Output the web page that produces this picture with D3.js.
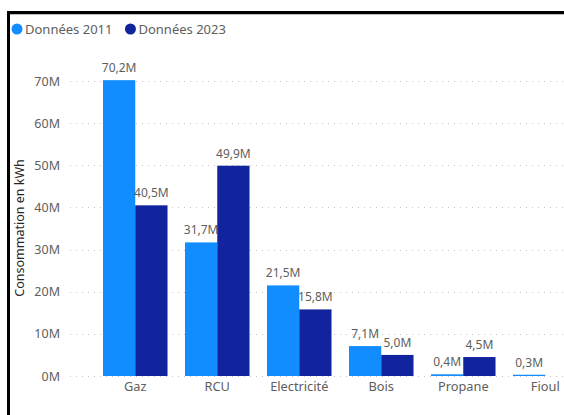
<!DOCTYPE html>
<html>
<head>
<meta charset="utf-8">
<script src="https://cdn.jsdelivr.net/npm/d3@7"></script>
<style>
  html, body { margin: 0; padding: 0; background: #fff; overflow: hidden; }
  svg { display: block; font-family: "Segoe UI", "Noto Sans", sans-serif; }
</style>
</head>
<body>
<svg id="chart" width="564" height="415"></svg>
<script>
// Consommation d'énergie par source (kWh, en millions)
const categories = ["Gaz", "RCU", "Electricité", "Bois", "Propane", "Fioul"];
const seriesNames = ["Données 2011", "Données 2023"];
const values2011 = [70.2, 31.7, 21.5, 7.1, 0.4, 0.3];
const values2023 = [40.5, 49.9, 15.8, 5.0, 4.5, null];
const yTicks = [0, 10, 20, 30, 40, 50, 60, 70];
const colors = ["#118DFF", "#12239E"];

const svg = d3.select("#chart");
const W = 564, H = 415;

// Cadre du visuel
svg.append("rect")
  .attr("x", 8.5).attr("y", 12.5)
  .attr("width", W + 20).attr("height", H + 20)
  .attr("fill", "#fff")
  .attr("stroke", "#000").attr("stroke-width", 3);
svg.append("line")
  .attr("x1", 10).attr("x2", W).attr("y1", 14.5).attr("y2", 14.5)
  .attr("stroke", "#bdbdbd").attr("stroke-width", 1);

// Échelles
const x = d3.scaleBand()
  .domain(categories)
  .range([94.25, 94.25 + 82 * categories.length])
  .paddingInner(0.213)
  .paddingOuter(0.1065);
const xs = d3.scaleBand().domain(seriesNames).range([0, x.bandwidth()]);
const y = d3.scaleLinear().domain([0, 70]).range([376, 81]);

// Grille pointillée
const grid = svg.append("g");
grid.selectAll("line").data(yTicks).join("line")
  .attr("x1", 70).attr("x2", W)
  .attr("y1", d => Math.round(y(d)) + 0.5).attr("y2", d => Math.round(y(d)) + 0.5)
  .attr("stroke", "#C8C6C4").attr("stroke-width", 1)
  .attr("stroke-dasharray", "1,5");

// Axe Y
const yAxis = d3.axisLeft(y).tickValues(yTicks).tickFormat(d => d + "M").tickSize(0).tickPadding(0);
const gy = svg.append("g").attr("transform", "translate(60,0)").call(yAxis);
gy.select(".domain").remove();
gy.selectAll("text")
  .attr("fill", "#605E5C").attr("font-size", 12.5)
  .style("font-family", "'Segoe UI', 'Noto Sans', sans-serif");

// Axe X
const xAxis = d3.axisBottom(x).tickSize(0).tickPadding(0);
const gx = svg.append("g").attr("transform", "translate(0,381.5)").call(xAxis);
gx.select(".domain").remove();
gx.selectAll("text")
  .attr("fill", "#605E5C").attr("font-size", 12.8).attr("dy", "0.71em")
  .style("font-family", "'Segoe UI', 'Noto Sans', sans-serif");

// Titre de l'axe Y
svg.append("text")
  .attr("transform", "translate(24,228) rotate(-90)")
  .attr("text-anchor", "middle")
  .attr("fill", "#252423").attr("font-size", 12.5)
  .text("Consommation en kWh");

// Barres
const rows = categories.map((c, i) => ({ cat: c, vals: [values2011[i], values2023[i]] }));
const groups = svg.append("g").selectAll("g").data(rows).join("g")
  .attr("transform", d => `translate(${x(d.cat)},0)`);

const bars = groups.selectAll("g.bar")
  .data(d => d.vals.map((v, k) => ({ v, k, s: seriesNames[k] })).filter(e => e.v != null))
  .join("g").attr("class", "bar");

bars.append("rect")
  .attr("x", e => xs(e.s))
  .attr("y", e => y(e.v))
  .attr("width", xs.bandwidth())
  .attr("height", e => y(0) - y(e.v))
  .attr("fill", e => colors[e.k]);

bars.append("text")
  .attr("x", e => xs(e.s) + xs.bandwidth() / 2)
  .attr("y", e => y(e.v) - 8)
  .attr("text-anchor", "middle")
  .attr("fill", "#605E5C").attr("font-size", 12)
  .text(e => d3.format(".1f")(e.v).replace(".", ",") + "M");

// Légende
const legend = svg.append("g");
let lx = 17;
seriesNames.forEach((name, k) => {
  legend.append("circle").attr("cx", lx).attr("cy", 29).attr("r", 5.5).attr("fill", colors[k]);
  const t = legend.append("text")
    .attr("x", lx + 8).attr("y", 33.5)
    .attr("fill", "#605E5C").attr("font-size", 13)
    .text(name);
  lx += 8 + t.node().getComputedTextLength() + 18;
});
</script>
</body>
</html>
